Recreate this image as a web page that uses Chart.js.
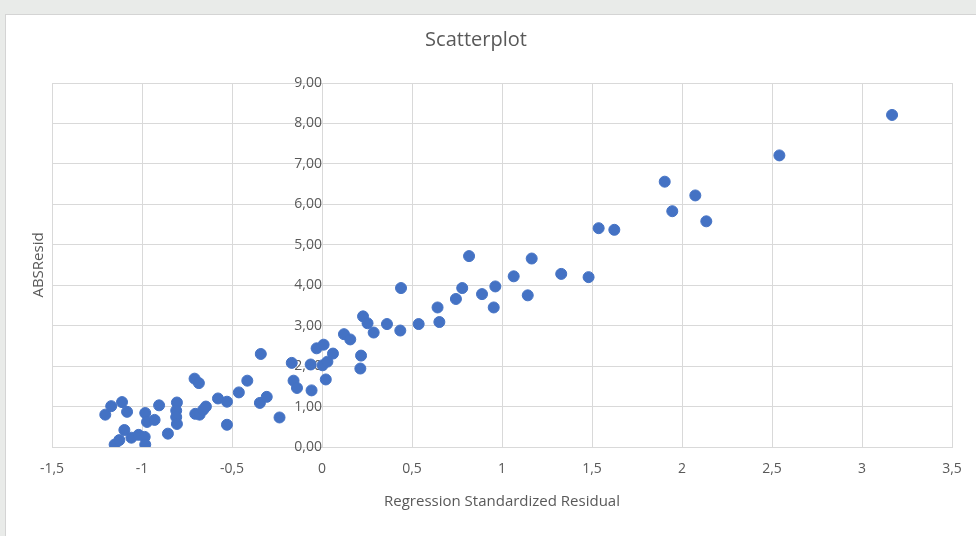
<!DOCTYPE html>
<html>
<head>
<meta charset="utf-8">
<script src="https://cdn.jsdelivr.net/npm/chart.js@4"></script>
<style>
  html, body { margin: 0; padding: 0; }
  body { width: 976px; height: 536px; background: #e9ebe9; position: relative; overflow: hidden; }
  #painel { position: absolute; left: 5px; top: 14px; width: 971px; height: 522px; background: #fff; border-left: 1px solid #d4d4d4; border-top: 1px solid #d4d4d4; box-sizing: border-box; }
  #grafico { position: absolute; left: 0; top: 0; }
</style>
</head>
<body>
<div id="painel"></div>
<canvas id="grafico" width="976" height="536"></canvas>
<script>
// Dados
var residuoPadrao = [-1.204, -1.171, -1.111, -1.083, -1.152, -1.126, -1.098, -1.059, -1.019, -0.985,
  -0.982, -0.982, -0.972, -0.93, -0.905, -0.856, -0.806, -0.81, -0.81, -0.806,
  -0.708, -0.684, -0.704, -0.68, -0.66, -0.645, -0.578, -0.528, -0.528, -0.462,
  -0.415, -0.34, -0.345, -0.307, -0.236, -0.168, -0.158, -0.139, -0.058, -0.063,
  -0.03, 0.009, 0.003, 0.03, 0.061, 0.021, 0.122, 0.157, 0.228, 0.253,
  0.287, 0.217, 0.213, 0.361, 0.435, 0.439, 0.537, 0.642, 0.652, 0.744,
  0.779, 0.817, 0.889, 0.963, 0.954, 1.065, 1.165, 1.143, 1.329, 1.481,
  1.537, 1.624, 1.904, 1.946, 2.074, 2.135, 2.541, 3.167];
var absResid = [0.80, 1.01, 1.11, 0.87, 0.06, 0.17, 0.42, 0.23, 0.30, 0.25,
  0.06, 0.84, 0.62, 0.67, 1.03, 0.33, 1.10, 0.90, 0.74, 0.57,
  1.69, 1.58, 0.82, 0.80, 0.92, 1.00, 1.20, 1.12, 0.55, 1.35,
  1.64, 2.30, 1.09, 1.24, 0.73, 2.08, 1.64, 1.46, 1.40, 2.04,
  2.44, 2.53, 2.02, 2.11, 2.31, 1.67, 2.79, 2.66, 3.23, 3.06,
  2.83, 2.26, 1.94, 3.04, 2.88, 3.93, 3.04, 3.45, 3.09, 3.66,
  3.93, 4.72, 3.78, 3.97, 3.45, 4.22, 4.66, 3.75, 4.28, 4.20,
  5.41, 5.37, 6.56, 5.83, 6.22, 5.58, 7.21, 8.21];

var pontos = residuoPadrao.map(function (x, i) { return { x: x, y: absResid[i] }; });

var corTexto = '#595959';
var corGrade = '#d9d9d9';
var fonte = "'Open Sans', 'Noto Sans', sans-serif";

var ctx = document.getElementById('grafico').getContext('2d');
var grafico = new Chart(ctx, {
  type: 'scatter',
  data: {
    datasets: [{
      label: 'ABSResid',
      data: pontos,
      backgroundColor: '#4472C4',
      borderColor: '#4472C4',
      borderWidth: 1,
      pointRadius: 5.5
    }]
  },
  options: {
    responsive: false,
    animation: false,
    layout: { padding: { left: 0, right: 24, top: 0, bottom: 0 } },
    plugins: {
      legend: { display: false },
      tooltip: { enabled: false },
      title: {
        display: true,
        text: 'Scatterplot',
        color: corTexto,
        font: { family: fonte, size: 20, weight: 'normal' },
        padding: { top: 28, bottom: 31 }
      }
    },
    scales: {
      x: {
        type: 'linear',
        min: -1.5,
        max: 3.5,
        afterFit: function (s) { s.height = 89; },
        grid: { color: corGrade, drawTicks: false },
        border: { color: corGrade },
        ticks: {
          stepSize: 0.5,
          padding: 14,
          color: corTexto,
          font: { family: fonte, size: 14 },
          callback: function (v) { return String(v).replace('.', ','); }
        },
        title: {
          display: true,
          text: 'Regression Standardized Residual',
          color: corTexto,
          font: { family: fonte, size: 15 },
          padding: { top: 25, bottom: 25 }
        }
      },
      y: {
        type: 'linear',
        min: 0,
        max: 9,
        position: { x: 0 },
        grid: { color: corGrade, drawTicks: false },
        border: { color: corGrade },
        ticks: {
          stepSize: 1,
          padding: 7,
          color: corTexto,
          font: { family: fonte, size: 14 },
          callback: function (v) { return v.toFixed(2).replace('.', ','); }
        }
      },
      yTitulo: {
        type: 'linear',
        position: 'left',
        min: 0,
        max: 9,
        afterFit: function (s) { s.width = 52; },
        grid: { display: false },
        border: { display: false },
        ticks: { display: false },
        title: {
          display: true,
          text: 'ABSResid',
          color: corTexto,
          font: { family: fonte, size: 15 },
          padding: { top: 30, bottom: 30 }
        }
      }
    }
  }
});
</script>
</body>
</html>
